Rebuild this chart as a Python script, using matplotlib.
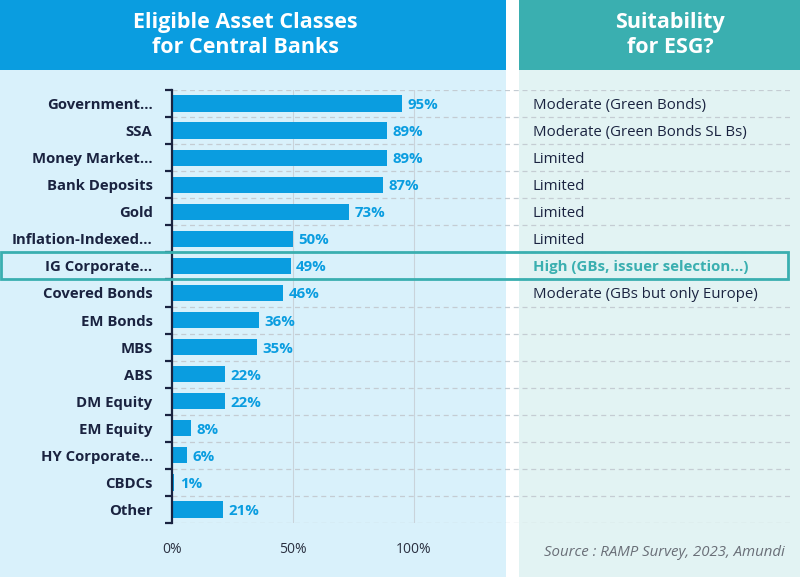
import matplotlib.pyplot as plt
from matplotlib.patches import Rectangle
from matplotlib.transforms import blended_transform_factory

categories = ["Government...", "SSA", "Money Market...", "Bank Deposits", "Gold",
              "Inflation-Indexed...", "IG Corporate...", "Covered Bonds", "EM Bonds",
              "MBS", "ABS", "DM Equity", "EM Equity", "HY Corporate...", "CBDCs", "Other"]
values = [95, 89, 89, 87, 73, 50, 49, 46, 36, 35, 22, 22, 8, 6, 1, 21]
suitability = ["Moderate (Green Bonds)", "Moderate (Green Bonds SL Bs)", "Limited",
               "Limited", "Limited", "Limited", "High (GBs, issuer selection...)",
               "Moderate (GBs but only Europe)", "", "", "", "", "", "", "", ""]
highlight = "IG Corporate..."
xticks = [0, 50, 100]

BLUE = "#0a9de0"
TEAL = "#3aafb0"
NAVY = "#1a2340"

plt.rcParams['font.family'] = ['Open Sans', 'DejaVu Sans']

W, H = 800, 582
fig = plt.figure(figsize=(W / 100, H / 100), dpi=100)
fig.patch.set_facecolor("white")


def px_rect(x0, y0, x1, y1, color):
    # rectangle given in pixel coords (origin top-left)
    fig.add_artist(Rectangle((x0 / W, 1 - y1 / H), (x1 - x0) / W, (y1 - y0) / H,
                             transform=fig.transFigure, facecolor=color,
                             edgecolor="none", zorder=0))


px_rect(0, 70, 506, 577, "#d9f1fb")
px_rect(519, 70, 800, 577, "#e2f3f3")
px_rect(0, 0, 506, 70, BLUE)
px_rect(519, 0, 800, 70, TEAL)

fig.text(245 / W, 1 - 35 / H, "Eligible Asset Classes\nfor Central Banks", color="white",
         fontsize=15.5, fontweight="bold", ha="center", va="center", linespacing=1.25)
fig.text(670 / W, 1 - 35 / H, "Suitability\nfor ESG?", color="white",
         fontsize=15.5, fontweight="bold", ha="center", va="center", linespacing=1.25)

# axes: x from 172px to 790px, y from 90px to 523px; 100% at 414px
ax_l, ax_r, ax_t, ax_b = 172, 790, 90, 523
ax = fig.add_axes([ax_l / W, 1 - ax_b / H, (ax_r - ax_l) / W, (ax_b - ax_t) / H])
ax.set_facecolor("none")
ax.set_xlim(0, (ax_r - ax_l) / ((414 - 172) / 100))
n = len(categories)
ax.set_ylim(n - 0.5, -0.5)

ypos = list(range(n))
ax.barh(ypos, values, height=0.6, color=BLUE, zorder=3)
for y, v in zip(ypos, values):
    ax.annotate(f"{v}%", (v, y), xytext=(4, 0), textcoords="offset points",
                ha="left", va="center_baseline", color=BLUE, fontsize=10.8,
                fontweight="bold")

# grid
for x in xticks[1:]:
    ax.axvline(x, ymin=0, ymax=1, color="#c9d3da", lw=0.8, zorder=1)
for i in range(n + 1):
    ax.axhline(i - 0.5, color="#c4ccd3", lw=0.9, ls=(0, (4, 3)), zorder=1)

for s in ["top", "right", "bottom"]:
    ax.spines[s].set_visible(False)
ax.spines["left"].set_color(NAVY)
ax.spines["left"].set_linewidth(1.6)
ax.spines["left"].set_zorder(4)

ax.set_yticks(ypos)
ax.set_yticklabels(categories)
ax.set_yticks([i - 0.5 for i in range(n + 1)], minor=True)
ax.tick_params(axis="y", which="major", length=0, pad=14, labelsize=10.7, labelcolor=NAVY)
ax.tick_params(axis="y", which="minor", length=5, width=1.6, color=NAVY)
for lbl in ax.get_yticklabels():
    lbl.set_fontweight("bold")
    lbl.set_verticalalignment("center_baseline")

ax.set_xticks(xticks)
ax.set_xticklabels([f"{x}%" for x in xticks])
ax.tick_params(axis="x", length=0, pad=14, labelsize=10, labelcolor="#2a3040")

# suitability column
tr = blended_transform_factory(fig.transFigure, ax.transData)
for y, s, c in zip(ypos, suitability, categories):
    if not s:
        continue
    hi = c == highlight
    ax.text(533 / W, y, s, transform=tr, ha="left", va="center_baseline", fontsize=10.8,
            color=TEAL if hi else NAVY, fontweight="bold" if hi else "normal")

hi_i = categories.index(highlight)
ax.add_patch(Rectangle((1 / W, hi_i - 0.5), 787 / W, 1.0, transform=tr, fill=False,
                       edgecolor=TEAL, lw=2, clip_on=False, zorder=5))

fig.text(785 / W, 1 - 553 / H, "Source : RAMP Survey, 2023, Amundi", ha="right",
         va="center", fontsize=10.8, style="italic", color="#6a6f78")

fig.savefig("out.png", dpi=100, facecolor=fig.get_facecolor())
